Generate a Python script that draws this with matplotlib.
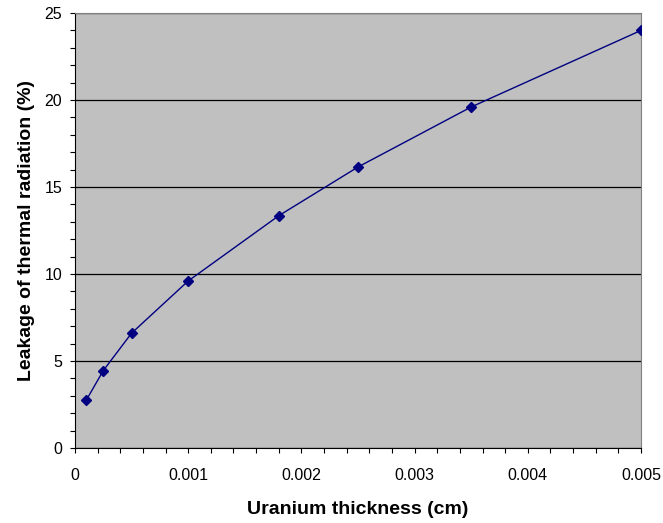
#!/usr/bin/env python3
import matplotlib
matplotlib.use("Agg")
import matplotlib.pyplot as plt
from matplotlib.ticker import MultipleLocator, FuncFormatter

plt.rcParams['font.family'] = ['Liberation Sans', 'DejaVu Sans']

thickness_cm = [0.0001, 0.00025, 0.0005, 0.001, 0.0018, 0.0025, 0.0035, 0.005]
leakage_pct = [2.75, 4.45, 6.6, 9.6, 13.35, 16.15, 19.6, 24.0]

line_colour = "#000080"

fig = plt.figure(figsize=(6.63, 5.23), dpi=100)
ax = fig.add_axes([0.1131, 0.1434, 0.8537, 0.8317])
ax.set_facecolor("#C0C0C0")

ax.plot(thickness_cm, leakage_pct, color=line_colour, lw=1.0,
        marker="D", ms=5.5, mfc=line_colour, mec=line_colour, zorder=3)

ax.set_xlim(0, 0.005)
ax.set_ylim(0, 25)
ax.xaxis.set_major_locator(MultipleLocator(0.001))
ax.xaxis.set_minor_locator(MultipleLocator(0.0002))
ax.yaxis.set_major_locator(MultipleLocator(5))
ax.yaxis.set_minor_locator(MultipleLocator(1))
ax.xaxis.set_major_formatter(FuncFormatter(lambda v, p: "0" if v == 0 else "%.3f" % v))

ax.grid(axis="y", which="major", color="black", lw=0.9)
ax.set_axisbelow(True)

ax.tick_params(axis="both", which="both", length=3.6, width=0.8, colors="black")
ax.tick_params(axis="both", which="major", labelsize=11.5)
ax.tick_params(axis="x", which="major", pad=10.5)
ax.tick_params(axis="y", which="major", pad=5.5)

for side in ("top", "right"):
    ax.spines[side].set_color("#808080")
for side in ("left", "bottom"):
    ax.spines[side].set_color("black")

ax.set_xlabel("Uranium thickness (cm)", fontsize=14, fontweight="bold", labelpad=13)
ax.set_ylabel("Leakage of thermal radiation (%)", fontsize=14, fontweight="bold", labelpad=7)

fig.savefig("out.png", dpi=100)
